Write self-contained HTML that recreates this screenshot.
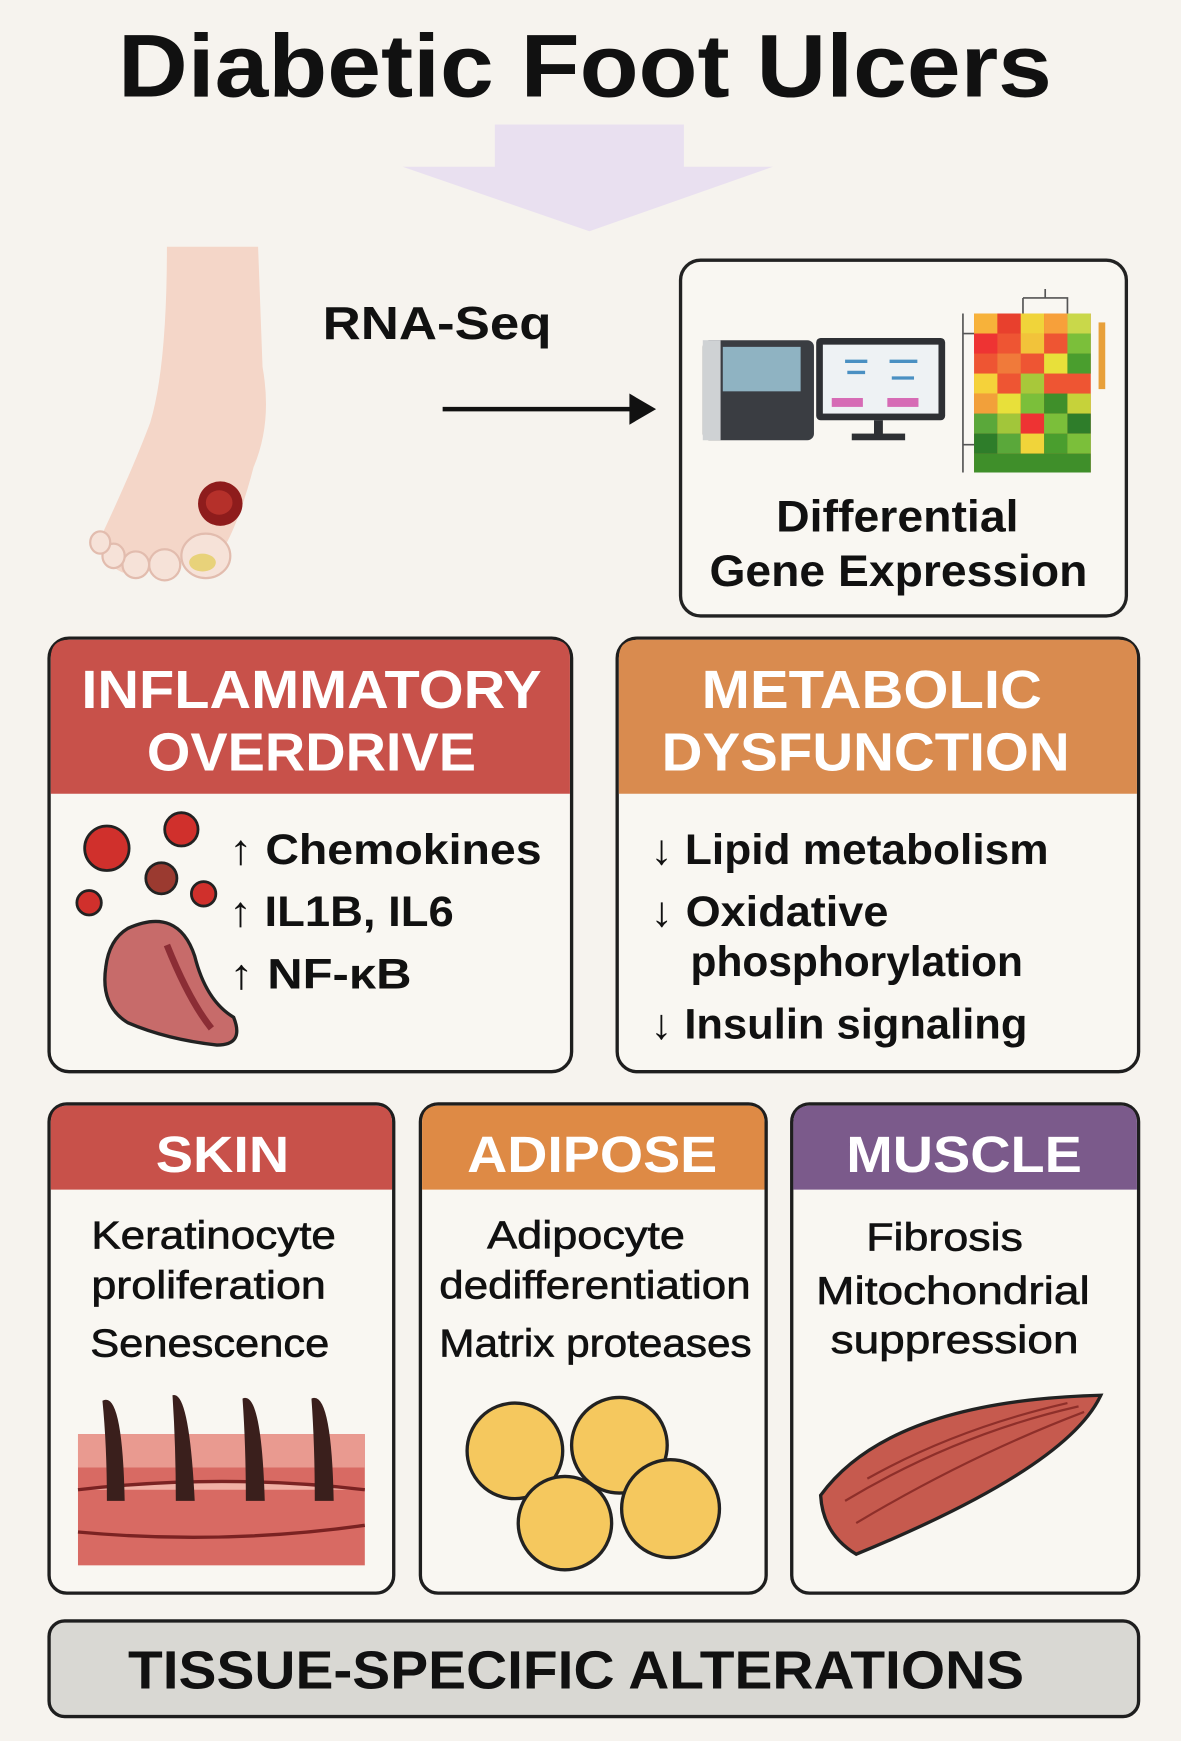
<!DOCTYPE html>
<html><head><meta charset="utf-8"><style>html,body{margin:0;padding:0;background:#f6f3ee}svg{display:block}text{font-family:"Liberation Sans",sans-serif}</style></head>
<body>
<svg width="1181" height="1741" viewBox="0 0 1062 1566" xmlns="http://www.w3.org/2000/svg">
<rect width="1062" height="1566" fill="#f6f3ee"/>
<text x="106" y="87" font-size="80" font-weight="bold" fill="#111" textLength="840" lengthAdjust="spacingAndGlyphs">Diabetic Foot Ulcers</text>
<rect x="445" y="112" width="170" height="40" fill="#e9e0f0"/>
<polygon points="362,150 695,150 530,208" fill="#e9e0f0"/>
<!-- foot -->
<path d="M150,222 L232,222 L236,330 Q245,380 228,420 Q215,470 200,495 L110,515 Q88,505 92,480 Q120,420 135,380 Q150,330 150,222Z" fill="#f4d6c8"/>
<g fill="#f6e2d8" stroke="#e2bcae" stroke-width="2">
<ellipse cx="185" cy="500" rx="22" ry="20"/><ellipse cx="148" cy="508" rx="14" ry="14"/><ellipse cx="122" cy="508" rx="12" ry="12"/><ellipse cx="102" cy="500" rx="10" ry="11"/><ellipse cx="90" cy="488" rx="9" ry="10"/></g>
<ellipse cx="182" cy="506" rx="12" ry="8" fill="#e8d27a"/>
<ellipse cx="198" cy="453" rx="20" ry="20" fill="#8e1c1c"/><ellipse cx="197" cy="452" rx="12" ry="11" fill="#b5302a"/>
<text x="290" y="305" font-size="42" font-weight="bold" fill="#111" textLength="206" lengthAdjust="spacingAndGlyphs">RNA-Seq</text>
<line x1="398" y1="368" x2="572" y2="368" stroke="#111" stroke-width="4"/>
<polygon points="590,368 566,354 566,382" fill="#111"/>
<!-- DGE box -->
<rect x="612" y="234" width="401" height="320" rx="18" fill="#f9f7f2" stroke="#222" stroke-width="3"/>
<rect x="632" y="306" width="100" height="90" rx="6" fill="#3a3d42"/><rect x="650" y="312" width="70" height="40" fill="#8fb3c2"/><rect x="632" y="306" width="16" height="90" fill="#cfd2d4"/>
<rect x="734" y="304" width="116" height="74" rx="4" fill="#2e3034"/><rect x="740" y="310" width="104" height="62" fill="#eef2f4"/>
<g stroke="#4a90c2" stroke-width="3"><line x1="760" y1="325" x2="780" y2="325"/><line x1="762" y1="335" x2="778" y2="335"/><line x1="800" y1="325" x2="825" y2="325"/><line x1="802" y1="340" x2="822" y2="340"/></g>
<rect x="748" y="358" width="28" height="8" fill="#d66bb5"/><rect x="798" y="358" width="28" height="8" fill="#d66bb5"/>
<rect x="786" y="378" width="8" height="14" fill="#2e3034"/><rect x="766" y="390" width="48" height="6" fill="#2e3034"/>
<g>
<rect x="876" y="282" width="105" height="143" fill="#e53"/>
<rect x="876" y="282" width="21" height="18" fill="#f7b23a"/><rect x="897" y="282" width="21" height="18" fill="#e8402d"/><rect x="918" y="282" width="21" height="18" fill="#f0d43a"/><rect x="939" y="282" width="21" height="18" fill="#f7a03a"/><rect x="960" y="282" width="21" height="18" fill="#c9d84a"/>
<rect x="876" y="300" width="21" height="18" fill="#e33"/><rect x="918" y="300" width="21" height="18" fill="#f2c33a"/><rect x="960" y="300" width="21" height="18" fill="#7bbf3a"/>
<rect x="897" y="318" width="21" height="18" fill="#f07a3a"/><rect x="939" y="318" width="21" height="18" fill="#e8e03a"/><rect x="960" y="318" width="21" height="18" fill="#4a9e2e"/>
<rect x="876" y="336" width="21" height="18" fill="#f5d23a"/><rect x="918" y="336" width="21" height="18" fill="#a8c83a"/>
<rect x="876" y="354" width="21" height="18" fill="#f2a03a"/><rect x="897" y="354" width="21" height="18" fill="#e8e03a"/><rect x="918" y="354" width="21" height="18" fill="#7bbf3a"/><rect x="939" y="354" width="21" height="18" fill="#3f8f2a"/><rect x="960" y="354" width="21" height="18" fill="#c6d23a"/>
<rect x="876" y="372" width="21" height="18" fill="#5aa83a"/><rect x="897" y="372" width="21" height="18" fill="#a2c63a"/><rect x="918" y="372" width="21" height="18" fill="#e33"/><rect x="939" y="372" width="21" height="18" fill="#7bbf3a"/><rect x="960" y="372" width="21" height="18" fill="#2e7d2a"/>
<rect x="876" y="390" width="21" height="18" fill="#2e7d2a"/><rect x="897" y="390" width="21" height="18" fill="#5aa83a"/><rect x="918" y="390" width="21" height="18" fill="#f0d43a"/><rect x="939" y="390" width="21" height="18" fill="#4a9e2e"/><rect x="960" y="390" width="21" height="18" fill="#7bbf3a"/>
<rect x="876" y="408" width="105" height="17" fill="#3f8f2a"/>
<rect x="988" y="290" width="6" height="60" fill="#e8a03a"/>
<path d="M866,282 V425 M866,300 H876 M866,400 H876 M920,268 V282 M920,268 H960 V282 M940,260 V268" stroke="#555" stroke-width="1.5" fill="none"/>
</g>
<text x="698" y="478" font-size="40" font-weight="bold" fill="#111" textLength="218" lengthAdjust="spacingAndGlyphs">Differential</text>
<text x="638" y="527" font-size="40" font-weight="bold" fill="#111" textLength="340" lengthAdjust="spacingAndGlyphs">Gene Expression</text>
<!-- Inflammatory -->
<rect x="44" y="574" width="470" height="390" rx="18" fill="#f9f7f2" stroke="#1e1e1e" stroke-width="3"/>
<path d="M45.5,714 V592 Q45.5,575.5 62,575.5 H496 Q512.5,575.5 512.5,592 V714Z" fill="#c8514a"/>
<text x="73" y="637" font-size="48" font-weight="bold" fill="#fff" textLength="414" lengthAdjust="spacingAndGlyphs">INFLAMMATORY</text>
<text x="132" y="693" font-size="48" font-weight="bold" fill="#fff" textLength="296" lengthAdjust="spacingAndGlyphs">OVERDRIVE</text>
<g stroke="#222" stroke-width="2.5"><circle cx="96" cy="763" r="20" fill="#d0302c"/><circle cx="163" cy="746" r="15" fill="#d0302c"/><circle cx="145" cy="790" r="14" fill="#9b3a30"/><circle cx="183" cy="804" r="11" fill="#d0302c"/><circle cx="80" cy="812" r="11" fill="#d0302c"/></g>
<path d="M115,835 Q160,815 175,860 Q185,900 210,915 Q220,940 195,940 Q150,935 115,920 Q90,905 95,870 Q98,845 115,835Z" fill="#c76b6a" stroke="#222" stroke-width="3"/>
<path d="M150,850 Q170,900 190,925" stroke="#8b2d35" stroke-width="6" fill="none"/>
<g font-size="38" font-weight="bold" fill="#111"><text x="206" y="777" textLength="281" lengthAdjust="spacingAndGlyphs">↑ Chemokines</text><text x="206" y="833" textLength="202" lengthAdjust="spacingAndGlyphs">↑ IL1B, IL6</text><text x="206" y="889" textLength="164" lengthAdjust="spacingAndGlyphs">↑ NF-κB</text></g>
<!-- Metabolic -->
<rect x="555" y="574" width="469" height="390" rx="18" fill="#f9f7f2" stroke="#1e1e1e" stroke-width="3"/>
<path d="M556.5,714 V592 Q556.5,575.5 573,575.5 H1006 Q1022.5,575.5 1022.5,592 V714Z" fill="#d98b4f"/>
<text x="631" y="637" font-size="48" font-weight="bold" fill="#fff" textLength="306" lengthAdjust="spacingAndGlyphs">METABOLIC</text>
<text x="595" y="693" font-size="48" font-weight="bold" fill="#fff" textLength="367" lengthAdjust="spacingAndGlyphs">DYSFUNCTION</text>
<g font-size="38" font-weight="bold" fill="#111"><text x="585" y="777" textLength="358" lengthAdjust="spacingAndGlyphs">↓ Lipid metabolism</text><text x="585" y="833" textLength="214" lengthAdjust="spacingAndGlyphs">↓ Oxidative</text><text x="621" y="878" textLength="299" lengthAdjust="spacingAndGlyphs">phosphorylation</text><text x="585" y="934" textLength="339" lengthAdjust="spacingAndGlyphs">↓ Insulin signaling</text></g>
<!-- Skin -->
<rect x="44" y="993" width="310" height="440" rx="16" fill="#f9f7f2" stroke="#1e1e1e" stroke-width="3"/>
<path d="M45.5,1070 V1010 Q45.5,994.5 61,994.5 H337 Q352.5,994.5 352.5,1010 V1070Z" fill="#c8514a"/>
<text x="140" y="1054" font-size="46" font-weight="bold" fill="#fff" textLength="120" lengthAdjust="spacingAndGlyphs">SKIN</text>
<g font-size="35" fill="#111" stroke="#111" stroke-width="0.6"><text x="82" y="1123" textLength="220" lengthAdjust="spacingAndGlyphs">Keratinocyte</text><text x="82" y="1168" textLength="211" lengthAdjust="spacingAndGlyphs">proliferation</text><text x="81" y="1220" textLength="215" lengthAdjust="spacingAndGlyphs">Senescence</text></g>
<rect x="70" y="1290" width="258" height="118" fill="#d86a63"/>
<rect x="70" y="1290" width="258" height="30" fill="#e99a90"/>
<path d="M70,1340 Q200,1325 328,1340" stroke="#7a2222" stroke-width="3" fill="#f1b0a5"/>
<path d="M70,1378 Q200,1390 328,1372" stroke="#7a2222" stroke-width="3" fill="none"/>
<g fill="#3a1f1c"><path d="M92,1260 Q110,1250 112,1350 L96,1350 Q96,1300 92,1260Z"/><path d="M155,1255 Q170,1250 175,1350 L158,1350 Q158,1300 155,1255Z"/><path d="M218,1258 Q235,1250 238,1350 L221,1350 Q221,1300 218,1258Z"/><path d="M280,1258 Q298,1250 300,1350 L283,1350 Q283,1300 280,1258Z"/></g>
<!-- Adipose -->
<rect x="378" y="993" width="311" height="440" rx="16" fill="#f9f7f2" stroke="#1e1e1e" stroke-width="3"/>
<path d="M379.5,1070 V1010 Q379.5,994.5 395,994.5 H672 Q687.5,994.5 687.5,1010 V1070Z" fill="#de8a45"/>
<text x="420" y="1054" font-size="46" font-weight="bold" fill="#fff" textLength="225" lengthAdjust="spacingAndGlyphs">ADIPOSE</text>
<g font-size="35" fill="#111" stroke="#111" stroke-width="0.6"><text x="438" y="1123" textLength="178" lengthAdjust="spacingAndGlyphs">Adipocyte</text><text x="395" y="1168" textLength="280" lengthAdjust="spacingAndGlyphs">dedifferentiation</text><text x="395" y="1220" textLength="281" lengthAdjust="spacingAndGlyphs">Matrix proteases</text></g>
<g fill="#f5c85e" stroke="#222" stroke-width="3"><circle cx="463" cy="1305" r="43"/><circle cx="557" cy="1300" r="43"/><circle cx="508" cy="1370" r="42"/><circle cx="603" cy="1357" r="44"/></g>
<!-- Muscle -->
<rect x="712" y="993" width="312" height="440" rx="16" fill="#f9f7f2" stroke="#1e1e1e" stroke-width="3"/>
<path d="M713.5,1070 V1010 Q713.5,994.5 729,994.5 H1007 Q1022.5,994.5 1022.5,1010 V1070Z" fill="#7b5a8b"/>
<text x="761" y="1054" font-size="46" font-weight="bold" fill="#fff" textLength="212" lengthAdjust="spacingAndGlyphs">MUSCLE</text>
<g font-size="35" fill="#111" stroke="#111" stroke-width="0.6"><text x="779" y="1125" textLength="141" lengthAdjust="spacingAndGlyphs">Fibrosis</text><text x="734" y="1173" textLength="246" lengthAdjust="spacingAndGlyphs">Mitochondrial</text><text x="747" y="1217" textLength="223" lengthAdjust="spacingAndGlyphs">suppression</text></g>
<path d="M738,1345 Q800,1260 990,1255 Q960,1320 770,1398 Q740,1380 738,1345Z" fill="#c65a4e" stroke="#222" stroke-width="3"/>
<g stroke="#8e2f2a" stroke-width="2" fill="none"><path d="M760,1350 Q860,1290 970,1265"/><path d="M770,1370 Q870,1310 975,1270"/><path d="M780,1330 Q860,1285 960,1262"/></g>
<!-- Bottom -->
<rect x="44" y="1458" width="980" height="86" rx="14" fill="#d9d8d3" stroke="#1e1e1e" stroke-width="3"/>
<text x="115" y="1519" font-size="48" font-weight="bold" fill="#111" textLength="806" lengthAdjust="spacingAndGlyphs">TISSUE-SPECIFIC ALTERATIONS</text>
</svg>
</body></html>
